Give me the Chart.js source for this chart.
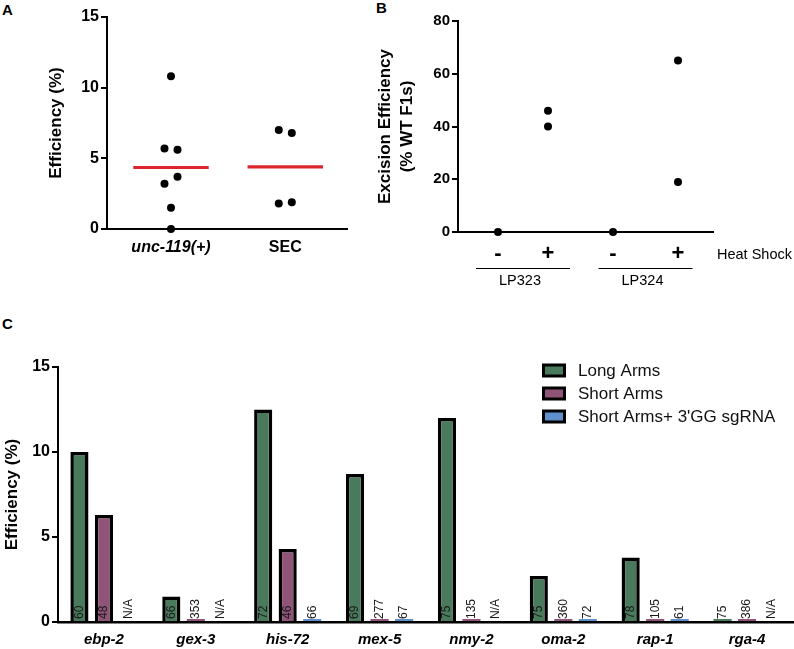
<!DOCTYPE html>
<html>
<head>
<meta charset="utf-8">
<script src="https://cdn.jsdelivr.net/npm/chart.js@4.4.0/dist/chart.umd.min.js"></script>
<style>
  body { margin: 0; background: #fff; width: 794px; height: 649px; position: relative; overflow: hidden; }
  .panel { position: absolute; }
  .letter { position: absolute; font: bold 15px/15px "Liberation Sans", Arial, sans-serif; color: #000; }
</style>
</head>
<body>
<div class="letter" style="left:2px;top:2px">A</div>
<div class="letter" style="left:376px;top:0px">B</div>
<div class="letter" style="left:2px;top:316px">C</div>

<div class="panel" style="left:0;top:0;width:360px;height:262px"><canvas id="chartA"></canvas></div>
<div class="panel" style="left:360px;top:0;width:434px;height:300px"><canvas id="chartB"></canvas></div>
<div class="panel" style="left:0;top:340px;width:794px;height:309px"><canvas id="chartC"></canvas></div>

<script>
// Panel A data
const groupsA = ['unc-119(+)', 'SEC'];
const uncValues = [10.8, 5.7, 5.6, 3.7, 3.2, 1.5, 0];
const uncJitter = [0, -1, 1, 1, -1, 0, 0];
const secValues = [7.0, 6.8, 1.8, 1.9];
const secJitter = [-1, 1, -1, 1];
const meansA = [4.35, 4.4];

// Panel B data
const conditionsB = ['-', '+', '-', '+'];
const conditionPosB = [1, 2, 3.3, 4.6];
const strainsB = ['LP323', 'LP324'];
const excisionB = [[0], [46, 40], [0], [65, 19]];

// Panel C data
const genes = ['ebp-2', 'gex-3', 'his-72', 'mex-5', 'nmy-2', 'oma-2', 'rap-1', 'rga-4'];
const longArms = [10.0, 1.5, 12.5, 8.7, 12.0, 2.7, 3.8, 0];
const shortArms = [6.3, 0, 4.3, 0, 0, 0, 0, 0];
const shortArmsGG = [null, null, 0, 0, null, 0, 0, null];
const nLong = ['60', '66', '72', '69', '75', '75', '78', '75'];
const nShort = ['48', '353', '46', '277', '135', '360', '105', '386'];
const nShortGG = ['N/A', 'N/A', '66', '67', 'N/A', '72', '61', 'N/A'];

const FONT = '"Liberation Sans", Arial, Helvetica, sans-serif';
Chart.defaults.font.family = FONT;
Chart.defaults.color = '#000';
Chart.defaults.animation = false;

function yAxis(max, step, width, titleText, titlePad) {
  return {
    min: 0, max: max,
    ticks: { stepSize: step, padding: 2, font: { size: 16, weight: 'bold' }, color: '#000' },
    grid: { drawOnChartArea: false, drawTicks: true, tickLength: 6, color: '#000', lineWidth: 2 },
    border: { color: '#000', width: 2 },
    title: { display: true, text: titleText, font: { size: 17, weight: 'bold', lineHeight: 1.3 }, padding: { top: titlePad, bottom: 0 }, color: '#000' },
    afterFit: s => { s.width = width; }
  };
}

// ---------- Panel A ----------
const jitterA = 0.057;
const meanHalfA = 0.33;
const pointsA = [];
uncValues.forEach((v, i) => pointsA.push({ x: 1 + uncJitter[i] * jitterA, y: v }));
secValues.forEach((v, i) => pointsA.push({ x: 2 + secJitter[i] * jitterA, y: v }));

new Chart(document.getElementById('chartA'), {
  type: 'scatter',
  data: {
    datasets: [
      { data: pointsA, pointRadius: 4, backgroundColor: '#000', borderWidth: 0, clip: false, order: 0 },
      ...meansA.map((m, i) => ({
        type: 'line', showLine: true, order: 1,
        data: [{ x: i + 1 - meanHalfA, y: m }, { x: i + 1 + meanHalfA, y: m }],
        borderColor: '#dc262c', borderWidth: 3.2, pointRadius: 0
      }))
    ]
  },
  options: {
    responsive: true, maintainAspectRatio: false,
    layout: { padding: { top: 17, right: 13, left: 0, bottom: 0 } },
    plugins: { legend: { display: false }, tooltip: { enabled: false } },
    scales: {
      x: {
        type: 'linear', min: 0.44, max: 2.54,
        afterBuildTicks: s => { s.ticks = groupsA.map((g, i) => ({ value: i + 1 })); },
        ticks: {
          autoSkip: false, maxRotation: 0, padding: 9, color: '#000',
          callback: (v, i) => groupsA[i],
          font: ctx => ({ size: 16, weight: 'bold', style: ctx.index === 0 ? 'italic' : 'normal' })
        },
        grid: { display: false, drawTicks: false },
        border: { color: '#000', width: 2 },
        afterFit: s => { s.height = 33; }
      },
      y: yAxis(15, 5, 107, 'Efficiency (%)', 45)
    }
  }
});

// ---------- Panel B ----------
const pointsB = [];
excisionB.forEach((vals, i) => vals.forEach(v => pointsB.push({ x: conditionPosB[i], y: v })));

const strainLabels = {
  id: 'strainLabels',
  afterDraw(chart) {
    const { ctx, chartArea } = chart;
    const xs = chart.scales.x;
    ctx.save();
    ctx.fillStyle = '#000';
    ctx.strokeStyle = '#000';
    ctx.font = '14.5px ' + FONT;
    ctx.textBaseline = 'middle';
    ctx.textAlign = 'left';
    ctx.fillText('Heat Shock', chartArea.right + 4, 255);
    ctx.textAlign = 'center';
    ctx.lineWidth = 1;
    strainsB.forEach((s, k) => {
      const cx = (xs.getPixelForValue(conditionPosB[2 * k]) + xs.getPixelForValue(conditionPosB[2 * k + 1])) / 2;
      ctx.beginPath();
      ctx.moveTo(cx - 47, 268.5);
      ctx.lineTo(cx + 47, 268.5);
      ctx.stroke();
      ctx.fillText(s, cx - 3, 281);
    });
    ctx.restore();
  }
};

new Chart(document.getElementById('chartB'), {
  type: 'scatter',
  data: { datasets: [{ data: pointsB, pointRadius: 4, backgroundColor: '#000', borderWidth: 0, clip: false }] },
  options: {
    responsive: true, maintainAspectRatio: false,
    layout: { padding: { top: 21, right: 81, left: 0, bottom: 0 } },
    plugins: { legend: { display: false }, tooltip: { enabled: false } },
    scales: {
      x: {
        type: 'linear', min: 0.2, max: 5.3,
        afterBuildTicks: s => { s.ticks = conditionPosB.map(p => ({ value: p })); },
        ticks: {
          autoSkip: false, maxRotation: 0, padding: 9, color: '#000',
          callback: (v, i) => conditionsB[i],
          font: { size: 22, weight: 'bold' }
        },
        grid: { display: false, drawTicks: false },
        border: { color: '#000', width: 2 },
        afterFit: s => { s.height = 68; }
      },
      y: (() => {
        const y = yAxis(80, 20, 98, ['Excision Efficiency', '(% WT F1s)'], 14);
        y.ticks.font = { size: 15, weight: 'bold' };
        return y;
      })()
    }
  },
  plugins: [strainLabels]
});

// ---------- Panel C ----------
const colorsC = ['#4a7a5c', '#915479', '#5f90cc'];
const countsC = [nLong, nShort, nShortGG];

const barCounts = {
  id: 'barCounts',
  afterDatasetsDraw(chart) {
    const { ctx } = chart;
    const y0 = chart.scales.y.getPixelForValue(0);
    ctx.save();
    ctx.fillStyle = '#1a1a1a';
    ctx.font = '12px ' + FONT;
    ctx.textAlign = 'left';
    ctx.textBaseline = 'middle';
    chart.data.datasets.forEach((ds, di) => {
      chart.getDatasetMeta(di).data.forEach((el, i) => {
        ctx.save();
        ctx.translate(el.x, y0 - 3);
        ctx.rotate(-Math.PI / 2);
        ctx.fillText(countsC[di][i], 0, 0);
        ctx.restore();
      });
    });
    ctx.restore();
  }
};

const boxLegend = {
  id: 'boxLegend',
  afterDraw(chart) {
    const { ctx } = chart;
    ctx.save();
    ctx.font = '17px ' + FONT;
    ctx.textBaseline = 'middle';
    ctx.textAlign = 'left';
    chart.data.datasets.forEach((ds, i) => {
      const cy = 30.5 + i * 23;
      ctx.fillStyle = ds.backgroundColor;
      ctx.fillRect(543.5, cy - 5.5, 21, 11);
      ctx.lineWidth = 3;
      ctx.strokeStyle = '#000';
      ctx.strokeRect(543.5, cy - 5.5, 21, 11);
      ctx.fillStyle = '#111';
      ctx.fillText(ds.label, 578, cy + 1);
    });
    ctx.restore();
  }
};

function barSet(label, data, color) {
  return {
    label: label, data: data, backgroundColor: color,
    borderColor: '#000',
    borderWidth: ctx => (ctx.raw === 0 ? 0 : 3.5),
    borderSkipped: 'start',
    minBarLength: 3,
    barPercentage: 0.74, categoryPercentage: 0.8,
    clip: false
  };
}

new Chart(document.getElementById('chartC'), {
  type: 'bar',
  data: {
    labels: genes,
    datasets: [
      barSet('Long Arms', longArms, colorsC[0]),
      barSet('Short Arms', shortArms, colorsC[1]),
      barSet("Short Arms+ 3'GG sgRNA", shortArmsGG, colorsC[2])
    ]
  },
  options: {
    responsive: true, maintainAspectRatio: false,
    layout: { padding: { top: 27, right: 1, left: 0, bottom: 0 } },
    plugins: { legend: { display: false }, tooltip: { enabled: false } },
    scales: {
      x: {
        ticks: { autoSkip: false, maxRotation: 0, padding: 9, color: '#000', font: { size: 15, weight: 'bold', style: 'italic' } },
        grid: { display: false, drawTicks: false },
        border: { color: '#000', width: 2.5 },
        afterFit: s => { s.height = 27; }
      },
      y: yAxis(15, 5, 58, 'Efficiency (%)', 1)
    }
  },
  plugins: [barCounts, boxLegend]
});
</script>
</body>
</html>
